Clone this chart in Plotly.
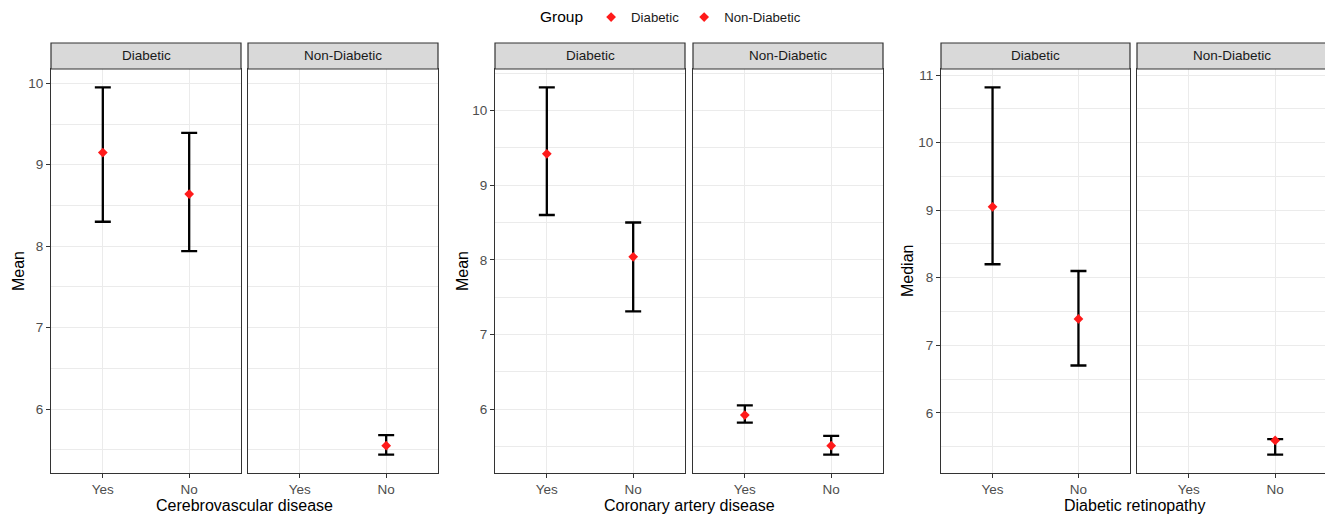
import plotly.graph_objects as go

# ---------------- data ----------------
categories = ["Yes", "No"]
groups = ["Diabetic", "Non-Diabetic"]

cvd_diab_x = ["Yes", "No"]
cvd_diab_mean = [9.15, 8.64]
cvd_diab_lower = [8.30, 7.94]
cvd_diab_upper = [9.95, 9.39]
cvd_nond_x = ["No"]
cvd_nond_mean = [5.55]
cvd_nond_lower = [5.44]
cvd_nond_upper = [5.68]

cad_diab_x = ["Yes", "No"]
cad_diab_mean = [9.42, 8.04]
cad_diab_lower = [8.60, 7.31]
cad_diab_upper = [10.31, 8.50]
cad_nond_x = ["Yes", "No"]
cad_nond_mean = [5.92, 5.51]
cad_nond_lower = [5.82, 5.39]
cad_nond_upper = [6.05, 5.64]

dr_diab_x = ["Yes", "No"]
dr_diab_median = [9.05, 7.39]
dr_diab_lower = [8.20, 6.70]
dr_diab_upper = [10.82, 8.10]
dr_nond_x = ["No"]
dr_nond_median = [5.59]
dr_nond_lower = [5.38]
dr_nond_upper = [5.61]

x_titles = ["Cerebrovascular disease", "Coronary artery disease", "Diabetic retinopathy"]
y_titles = ["Mean", "Mean", "Median"]

panels = [
    [(cvd_diab_x, cvd_diab_mean, cvd_diab_lower, cvd_diab_upper),
     (cvd_nond_x, cvd_nond_mean, cvd_nond_lower, cvd_nond_upper)],
    [(cad_diab_x, cad_diab_mean, cad_diab_lower, cad_diab_upper),
     (cad_nond_x, cad_nond_mean, cad_nond_lower, cad_nond_upper)],
    [(dr_diab_x, dr_diab_median, dr_diab_lower, dr_diab_upper),
     (dr_nond_x, dr_nond_median, dr_nond_lower, dr_nond_upper)],
]

# ---------------- layout geometry ----------------
W, H = 1325, 517
FONT = "Liberation Sans, Arial, sans-serif"
FRAME = "#333333"
GRID = "#EBEBEB"
TICKC = "#4D4D4D"
SMALL = 13.5
BIG = 16

panel_px = [[(51, 241), (248, 438)],
            [(495, 685), (693, 883)],
            [(941, 1130), (1137, 1327)]]
plot_top, plot_bot, strip_top = 69, 473, 43
ydom = [1 - plot_bot / H, 1 - plot_top / H]

fig = go.Figure()
shapes, annotations = [], []

idx = 0
for p, facets in enumerate(panels):
    lo = min(min(f[2]) for f in facets)
    hi = max(max(f[3]) for f in facets)
    pad = (hi - lo) * 0.05
    yr = [lo - pad, hi + pad]
    for f, (xs, ms, ls, us) in enumerate(facets):
        idx += 1
        x0p, x1p = panel_px[p][f]
        clipped = x1p > W
        x1p_eff = min(x1p, W)
        xr_end = -0.6 + 2.2 * (x1p_eff - x0p) / (x1p - x0p)
        xa = "x" if idx == 1 else f"x{idx}"
        ya = "y" if idx == 1 else f"y{idx}"
        fig.add_trace(go.Scatter(
            x=xs, y=ms, mode="markers",
            marker=dict(symbol="diamond", size=7.5, color="#FF1A1A"),
            error_y=dict(type="data", symmetric=False,
                         array=[u - m for u, m in zip(us, ms)],
                         arrayminus=[m - l for m, l in zip(ms, ls)],
                         color="black", thickness=2.3, width=8),
            name=groups[f], legendgroup=groups[f],
            showlegend=(p == 0),
            xaxis=xa, yaxis=ya, cliponaxis=False,
        ))
        xkey = "xaxis" if idx == 1 else f"xaxis{idx}"
        ykey = "yaxis" if idx == 1 else f"yaxis{idx}"
        fig.update_layout(**{
            xkey: dict(domain=[x0p / W, x1p_eff / W], anchor=ya,
                       type="category", categoryorder="array",
                       categoryarray=categories, tickvals=categories,
                       range=[-0.6, xr_end],
                       showline=True, linecolor=FRAME, linewidth=1.2,
                       mirror=True, showgrid=True, gridcolor=GRID, gridwidth=1,
                       ticks="outside", ticklen=4, tickcolor=FRAME, tickwidth=1,
                       tickfont=dict(family=FONT, size=SMALL, color=TICKC),
                       zeroline=False, fixedrange=True),
            ykey: dict(domain=ydom, anchor=xa, range=yr,
                       showline=True, linecolor=FRAME, linewidth=1.2,
                       mirror=(not clipped), showgrid=True, gridcolor=GRID,
                       gridwidth=1, dtick=1,
                       minor=dict(dtick=0.5, showgrid=True, gridcolor=GRID,
                                  gridwidth=0.6),
                       ticks="outside" if f == 0 else "", ticklen=4,
                       tickcolor=FRAME, tickwidth=1,
                       showticklabels=(f == 0),
                       tickfont=dict(family=FONT, size=SMALL, color=TICKC),
                       zeroline=False, fixedrange=True),
        })
        # facet strip
        shapes.append(dict(type="rect", xref="paper", yref="paper",
                           x0=x0p / W, x1=(x1p + 2) / W if clipped else x1p / W,
                           y0=ydom[1], y1=1 - strip_top / H,
                           fillcolor="#D9D9D9", line=dict(color=FRAME, width=1.2),
                           layer="above"))
        annotations.append(dict(xref="paper", yref="paper",
                                x=(x0p + x1p) / 2 / W,
                                y=1 - (strip_top + plot_top) / 2 / H,
                                text=groups[f], showarrow=False,
                                xanchor="center", yanchor="middle",
                                font=dict(family=FONT, size=SMALL, color="#1A1A1A")))
    # x-axis title for the pair
    cx = (panel_px[p][0][0] + panel_px[p][1][1]) / 2
    annotations.append(dict(xref="paper", yref="paper", x=cx / W, y=1 - 505 / H,
                            text=x_titles[p], showarrow=False,
                            xanchor="center", yanchor="middle",
                            font=dict(family=FONT, size=BIG, color="black")))
    # y-axis title
    ytx = [18, 462, 907][p]
    annotations.append(dict(xref="paper", yref="paper", x=ytx / W,
                            y=1 - (plot_top + plot_bot) / 2 / H,
                            text=y_titles[p], showarrow=False, textangle=-90,
                            xanchor="center", yanchor="middle",
                            font=dict(family=FONT, size=BIG, color="black")))

fig.update_layout(
    width=W, height=H,
    margin=dict(l=0, r=0, t=0, b=0, autoexpand=False),
    paper_bgcolor="white", plot_bgcolor="white",
    shapes=shapes, annotations=annotations,
    showlegend=True,
    legend=dict(orientation="h", x=538 / W, xanchor="left", y=1 - 2 / H,
                yanchor="top", itemwidth=30,
                title=dict(text="Group", font=dict(family=FONT, size=15.5, color="black")),
                font=dict(family=FONT, size=13.2, color="#1A1A1A"),
                bgcolor="rgba(0,0,0,0)"),
    font=dict(family=FONT),
)

fig.write_html("out.html",
               config={"displayModeBar": False},
               post_script="document.body.style.margin='0';document.body.style.padding='0';")
